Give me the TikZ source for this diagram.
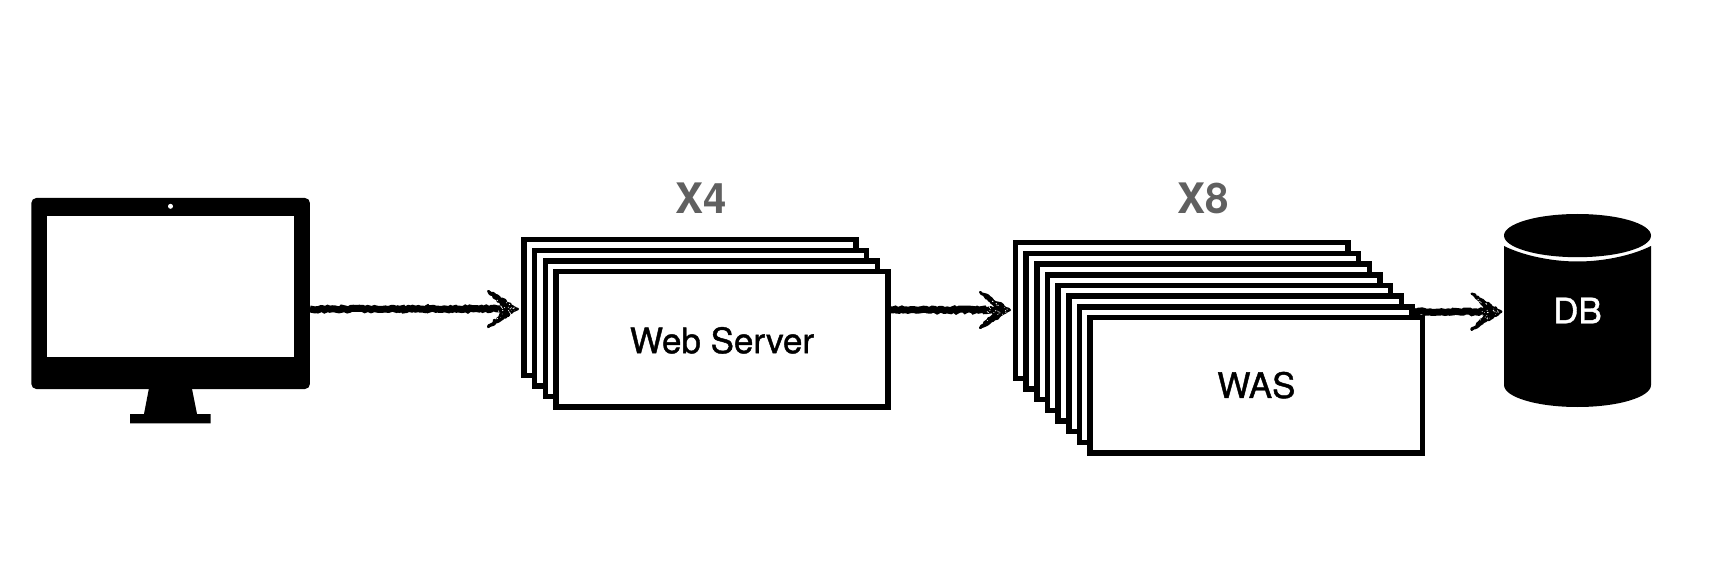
\documentclass[tikz,border=0pt]{standalone}
\usepackage{fontspec}
\setmainfont{TeX Gyre Heros}
\newfontfamily\labelfont[FakeBold=1.2]{TeX Gyre Heros}
\usetikzlibrary{calc,decorations.pathmorphing}
\definecolor{countgrey}{HTML}{606060}
\tikzset{
  stackbox/.style={draw=black,fill=white,line width=5.5pt,inner sep=0pt,minimum height=135.5pt},
  webbox/.style={stackbox,minimum width=331.9pt},
  wasbox/.style={stackbox,minimum width=332.5pt},
  boxtext/.style={font=\labelfont\fontsize{35}{35}\selectfont,text=black},
  counttext/.style={font=\fontsize{42}{42}\selectfont\bfseries,text=countgrey,inner sep=0pt},
  roughline/.style={draw=black,line width=7pt,decorate,decoration={random steps,segment length=2.2pt,amplitude=.9pt}},
  roughhead/.style={fill=black,draw=black,line width=2.5pt,line join=round,decorate,decoration={random steps,segment length=2pt,amplitude=1pt}},
  speck/.style={fill=white,inner sep=0pt,draw=none}
}
\newcommand{\roughArrow}[2]{%
  \draw[roughline] (#1) -- ($(#2)+(-14,0)$);
  \begin{scope}[shift={(#2)}]
    \filldraw[roughhead] (-1.5,0) -- (-31,-18) -- (-13,0) -- (-31,18) -- cycle;
    \foreach \k in {1,...,30}{
      \pgfmathsetmacro{\sx}{-4-22*rnd}
      \pgfmathsetmacro{\sy}{(2*rnd-1)*(-\sx)*0.5}
      \pgfmathsetmacro{\sr}{0.3+0.4*rnd}
      \fill[speck] (\sx,\sy) circle[radius=\sr];
    }
  \end{scope}
}
\begin{document}
\begin{tikzpicture}[x=1pt,y=-1pt]
\pgfmathsetseed{1234}
\useasboundingbox (0,0) rectangle (1730,572);
\fill[white] (0,0) rectangle (1730,572);

% monitor
\node[fill=black,rounded corners=5pt,inner sep=0pt,minimum width=278.6pt,minimum height=191pt,outer sep=0pt] (monitor) at (170.65,293.5) {};
\fill[black] (149,388) -- (191.8,388) -- (197,414) -- (210.7,414) -- (210.7,423.3) -- (130,423.3) -- (130,414) -- (144,414) -- cycle;
\node[fill=white,inner sep=0pt,minimum width=247.2pt,minimum height=141pt,outer sep=0pt] (screen) at (170.4,286.5) {};
\node[circle,fill=white,inner sep=0pt,minimum size=5pt] (camera) at (170.5,206.3) {};

% web server stack
\foreach \i in {1,2,3}{
  \node[webbox] (web\i) at ({690+10.67*(\i-1)},{307.5+10.55*(\i-1)}) {};
}
\node[webbox,boxtext,text height=28pt,text depth=0pt] (web4) at (722,339.15) {Web Server};
\node[counttext] (x4) at (700.8,198) {X4};

% WAS stack
\foreach \i in {1,...,7}{
  \node[wasbox] (was\i) at ({1181.7+10.67*(\i-1)},{310.5+10.67*(\i-1)}) {};
}
\node[wasbox,boxtext] (was8) at (1256.4,385.2) {WAS};
\node[counttext] (x8) at (1203,198) {X8};

% database
\fill[black] (1504,246) .. controls (1522,255) and (1550,261.5) .. (1577.5,261.5)
  .. controls (1605,261.5) and (1633,255) .. (1651,246)
  -- (1651,385) arc[x radius=73.5,y radius=22,start angle=0,end angle=180] -- cycle;
\fill[black] (1577.5,235.6) ellipse[x radius=73.5,y radius=21.6];
\node[inner sep=0pt,minimum width=147pt,minimum height=193pt,outer sep=0pt,font=\labelfont\fontsize{35}{35}\selectfont,text=white] (db) at (1577.5,310.5) {DB};

% connectors
\coordinate (lane1) at (0,309);
\coordinate (lane2) at (0,310);
\coordinate (lane3) at (0,311.7);
\coordinate (s1) at (monitor.east |- lane1);
\coordinate (t1) at ($(web1.west |- lane1)+(-2,0)$);
\coordinate (s2) at (web4.east |- lane2);
\coordinate (t2) at ($(was1.west |- lane2)+(-1.5,0)$);
\coordinate (s3) at (was7.east |- lane3);
\coordinate (t3) at ($(db.west |- lane3)+(-1.3,0)$);
\roughArrow{s1}{t1}
\roughArrow{s2}{t2}
\roughArrow{s3}{t3}
\end{tikzpicture}
\end{document}
